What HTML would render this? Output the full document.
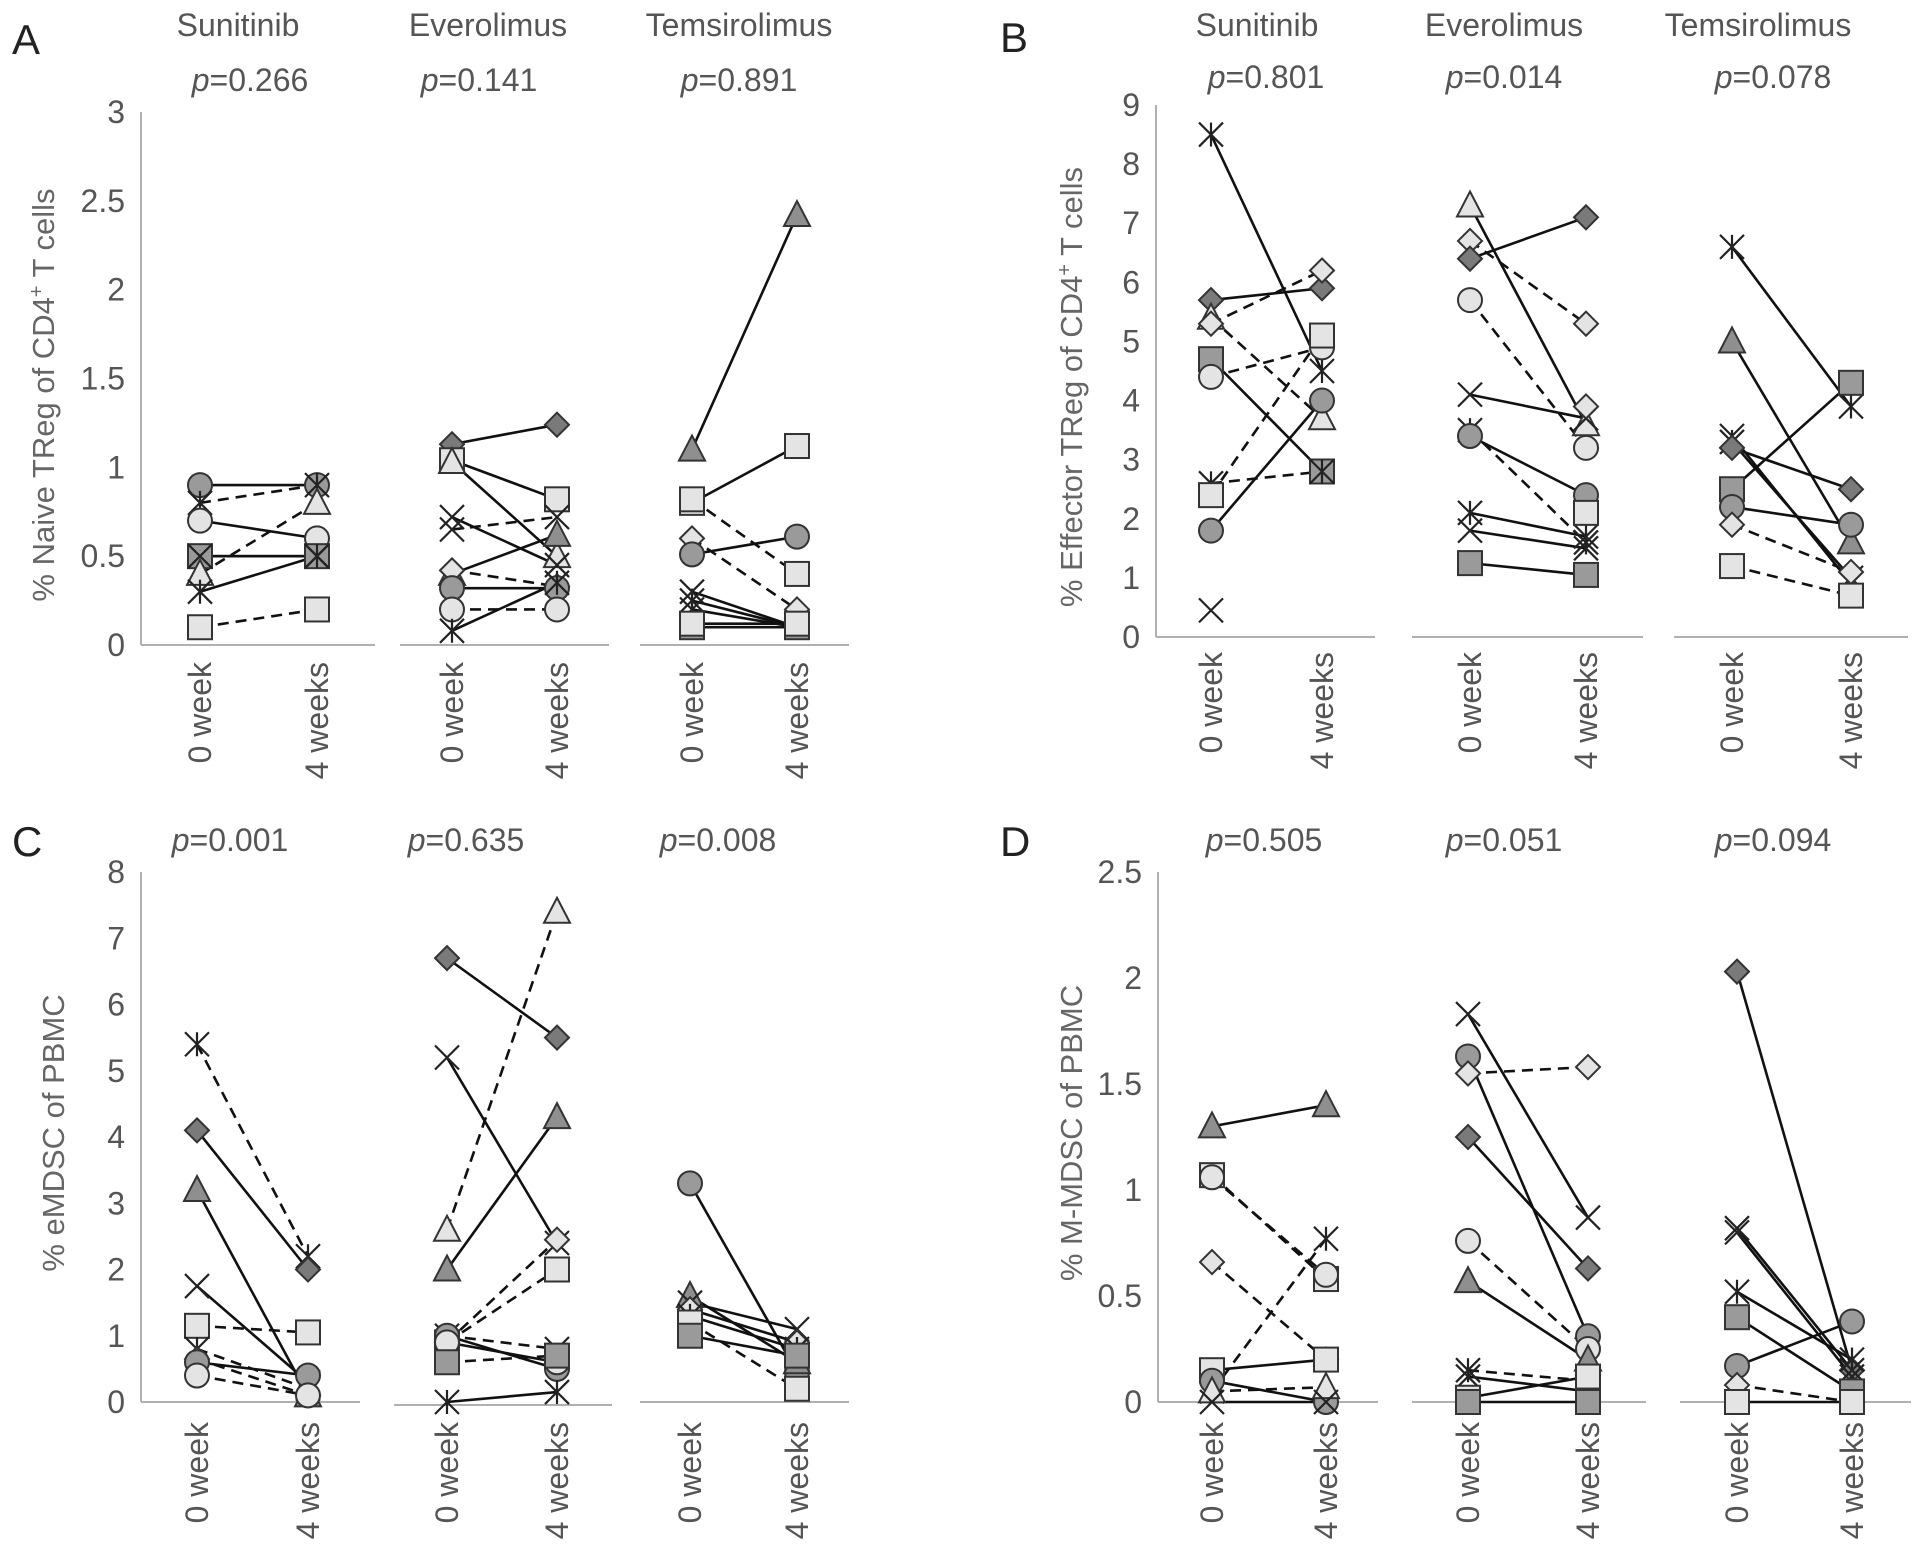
<!DOCTYPE html>
<html><head><meta charset="utf-8"><style>
html,body{margin:0;padding:0;background:#fff;}
svg{display:block;font-family:"Liberation Sans",Arial,sans-serif;}
</style></head><body>
<svg id="fig" width="1913" height="1558" viewBox="0 0 1913 1558" xmlns="http://www.w3.org/2000/svg"></svg>
<script>
// ---- data arrays (marker, week0, week4, dashed) ----
const drugs = ["Sunitinib","Everolimus","Temsirolimus"];
const timeLabels = ["0 week","4 weeks"];
const A_ticks = [0,0.5,1,1.5,2,2.5,3];
const A_p = ["0.266","0.141","0.891"];
const A_sun = [["cd",0.9,0.9,0],["a",0.8,0.9,1],["cl",0.7,0.6,0],["sd",0.5,0.5,0],["x",0.5,0.5,0],["tl",0.4,0.8,1],["a",0.3,0.5,0],["sl",0.1,0.2,1]];
const A_eve = [["dd",1.13,1.24,0],["sl",1.04,0.82,0],["tl",1.03,0.5,0],["x",0.72,0.45,0],["x",0.65,0.72,1],["td",0.4,0.62,0],["dl",0.42,0.33,1],["cd",0.32,0.32,0],["cl",0.2,0.2,1],["a",0.08,0.35,0]];
const A_tem = [["td",1.1,2.42,0],["sl",0.8,1.12,0],["sl",0.82,0.4,1],["dl",0.6,0.2,1],["cd",0.51,0.61,0],["x",0.3,0.1,0],["a",0.25,0.1,0],["a",0.2,0.1,0],["sd",0.1,0.1,0],["sl",0.12,0.12,0]];
const B_ticks = [0,1,2,3,4,5,6,7,8,9];
const B_p = ["0.801","0.014","0.078"];
const B_sun = [["a",8.5,4.5,0],["dd",5.7,5.9,0],["tl",5.4,3.7,1],["dl",5.3,6.2,1],["sd",4.7,2.8,0],["cl",4.4,4.9,1],["a",2.6,2.8,1],["sl",2.4,5.1,1],["cd",1.8,4.0,0],["x",0.45,null,0]];
const B_eve = [["tl",7.3,3.6,0],["dl",6.7,5.3,1],["dd",6.4,7.1,0],["cl",5.7,3.2,1],["x",4.1,3.7,0],["a",3.5,1.6,1],["cd",3.4,2.4,0],["a",2.1,1.7,0],["x",1.8,1.5,0],["sd",1.25,1.05,0],["sl",null,2.1,0],["dl",null,3.9,0]];
const B_tem = [["a",6.6,3.9,0],["td",5.0,1.6,0],["x",3.4,0.9,0],["a",3.3,1.0,0],["dd",3.2,2.5,0],["sd",2.5,4.3,0],["cd",2.2,1.9,0],["dl",1.9,1.1,1],["sl",1.2,0.7,1]];
const C_ticks = [0,1,2,3,4,5,6,7,8];
const C_p = ["0.001","0.635","0.008"];
const C_sun = [["a",5.4,2.2,1],["dd",4.1,2.0,0],["td",3.2,0.1,0],["x",1.75,0.3,0],["sl",1.15,1.05,1],["a",0.8,0.2,1],["dd",0.65,0.1,1],["cd",0.6,0.4,0],["cl",0.4,0.1,1]];
const C_eve = [["dd",6.7,5.5,0],["tl",2.6,7.4,1],["x",5.2,2.4,0],["dl",0.9,2.45,1],["td",2.0,4.3,0],["sl",0.9,2.0,1],["x",1.0,0.8,1],["cd",1.0,0.5,0],["cl",0.9,0.6,0],["a",0.0,0.15,0],["sd",0.6,0.7,1]];
const C_tem = [["cd",3.3,0.45,0],["td",1.6,0.6,0],["x",1.5,1.1,0],["dl",1.4,0.9,0],["a",1.3,0.8,0],["sl",1.2,0.2,1],["sd",1.0,0.7,0]];
const D_ticks = [0,0.5,1,1.5,2,2.5];
const D_p = ["0.505","0.051","0.094"];
const D_sun = [["td",1.3,1.4,0],["sl",1.07,0.58,1],["cl",1.06,0.6,1],["dl",0.66,0.2,1],["a",0.05,0.77,1],["sl",0.15,0.2,0],["cd",0.1,0.0,0],["tl",0.05,0.07,1],["x",0.0,0.0,0]];
const D_eve = [["x",1.83,0.87,0],["cd",1.63,0.31,0],["dl",1.55,1.58,1],["dd",1.25,0.63,0],["cl",0.76,0.25,1],["td",0.57,0.2,0],["a",0.15,0.1,1],["x",0.12,0.05,0],["sl",0.02,0.12,0],["sd",0.0,0.0,0]];
const D_tem = [["dd",2.03,0.15,0],["x",0.82,0.15,0],["x",0.8,0.12,0],["a",0.52,0.2,0],["sd",0.4,0.05,0],["cd",0.17,0.38,0],["dl",0.08,0.0,1],["sl",0.0,0.0,0]];

const NS="http://www.w3.org/2000/svg";
const svg=document.getElementById('fig');
function mk(tag,attrs,parent){const e=document.createElementNS(NS,tag);for(const k in attrs)e.setAttribute(k,attrs[k]);(parent||svg).appendChild(e);return e;}
const fillOf={cd:"#9a9a9a",cl:"#e4e4e4",sd:"#9a9a9a",sl:"#e4e4e4",dd:"#7a7a7a",dl:"#e4e4e4",td:"#8f8f8f",tl:"#e4e4e4"};

function marker(g,type,x,y){
  const r=12, st={stroke:"#333","stroke-width":2};
  let e;
  if(type[0]==="c"){e=mk("circle",Object.assign({cx:x,cy:y,r:r,fill:fillOf[type]},st),g);}
  else if(type[0]==="s"){e=mk("rect",Object.assign({x:x-r,y:y-r,width:2*r,height:2*r,fill:fillOf[type]},st),g);}
  else if(type[0]==="d"){e=mk("polygon",Object.assign({points:`${x},${y-r} ${x+r},${y} ${x},${y+r} ${x-r},${y}`,fill:fillOf[type]},st),g);}
  else if(type[0]==="t"){e=mk("polygon",Object.assign({points:`${x},${y-r-2} ${x+r+1},${y+r-1} ${x-r-1},${y+r-1}`,fill:fillOf[type]},st),g);}
  else {
    e=mk("g",{},g);
    mk("line",{x1:x-r,y1:y-r,x2:x+r,y2:y+r,stroke:"#222","stroke-width":2.2},e);
    mk("line",{x1:x-r,y1:y+r,x2:x+r,y2:y-r,stroke:"#222","stroke-width":2.2},e);
    if(type==="a")mk("line",{x1:x,y1:y-r,x2:x,y2:y+r,stroke:"#222","stroke-width":2.2},e);
  }
  
  
}

function panel(cfg){
  const g=mk("g",{});
  
  
  const yS=v=>cfg.y0-(v-cfg.ticks[0])*(cfg.y0-cfg.yTop)/(cfg.ticks[cfg.ticks.length-1]-cfg.ticks[0]);
  const L=mk("text",{x:cfg.lx,y:cfg.ly,"font-size":42,fill:"#222"},g);L.textContent=cfg.letter;
  
  const ax=mk("line",{x1:cfg.axX,y1:cfg.yTop,x2:cfg.axX,y2:cfg.y0,stroke:"#b0b0b0","stroke-width":2},g);
  
  cfg.ticks.forEach(t=>{const tt=mk("text",{x:cfg.axX-16,y:yS(t)+11,"font-size":32,fill:"#555","text-anchor":"end"},g);tt.textContent=String(t);
    });
  const yl=mk("text",{x:0,y:0,"font-size":31,fill:"#666","text-anchor":"middle",transform:`translate(${cfg.ylx},${cfg.yly}) rotate(-90)`},g);
  
  yl.innerHTML=cfg.ylab;
  cfg.groups.forEach((grp,gi)=>{
    const gg=mk("g",{},g);
    
    mk("line",{x1:grp.seg[0],y1:grp.base||cfg.y0,x2:grp.seg[1],y2:grp.base||cfg.y0,stroke:"#b0b0b0","stroke-width":2},gg);
    if(cfg.titles){const t=mk("text",{x:grp.tx,y:cfg.titleY,"font-size":32,fill:"#555","text-anchor":"middle"},gg);t.textContent=drugs[gi];
      }
    const p=mk("text",{x:grp.px,y:cfg.pY,"font-size":32,fill:"#555","text-anchor":"middle"},gg);
    p.innerHTML='<tspan font-style="italic">p</tspan>=' + cfg.p[gi];
    
    timeLabels.forEach((tl,ti)=>{const t=mk("text",{x:0,y:0,"font-size":32,fill:"#555","text-anchor":"end",transform:`translate(${grp.xs[ti]+11},${cfg.xlY}) rotate(-90)`},gg);t.textContent=tl;
      });
    grp.data.forEach(d=>{if(d[1]!==null&&d[2]!==null){const ln=mk("line",{x1:grp.xs[0],y1:yS(d[1]),x2:grp.xs[1],y2:yS(d[2]),stroke:"#111","stroke-width":2.6},gg);
      if(d[3])ln.setAttribute("stroke-dasharray","11,7");
      }});
    grp.data.forEach(d=>{if(d[1]!==null)marker(gg,d[0],grp.xs[0],yS(d[1]));if(d[2]!==null)marker(gg,d[0],grp.xs[1],yS(d[2]));});
  });
}
const sup='<tspan dy="-11" font-size="20">+</tspan><tspan dy="11">';
panel({letter:"A",lx:12,ly:54,axX:141,yTop:112,y0:645,ticks:A_ticks,p:A_p,titles:true,titleY:36,pY:91,xlY:662,ylx:54,yly:395,
  ylab:'% Naive TReg of CD4'+sup+' T cells</tspan>',
  groups:[{seg:[141,375],xs:[200,317],tx:238,px:250,data:A_sun},{seg:[400,609],xs:[452,557],tx:488,px:479,data:A_eve},{seg:[640,849],xs:[692,797],tx:739,px:739,data:A_tem}]});
panel({letter:"B",lx:1000,ly:52,axX:1156,yTop:105,y0:637,ticks:B_ticks,p:B_p,titles:true,titleY:36,pY:88,xlY:652,ylx:1082,yly:387,
  ylab:'% Effector TReg of CD4'+sup+' T cells</tspan>',
  groups:[{seg:[1156,1375],xs:[1211,1322],tx:1257,px:1266,data:B_sun},{seg:[1412,1643],xs:[1470,1586],tx:1504,px:1504,data:B_eve},{seg:[1674,1908],xs:[1732,1851],tx:1758,px:1773,data:B_tem}]});
panel({letter:"C",lx:12,ly:856,axX:141,yTop:872,y0:1402,ticks:C_ticks,p:C_p,titles:false,pY:851,xlY:1422,ylx:64,yly:1133,
  ylab:'% eMDSC of PBMC',
  groups:[{seg:[141,360],xs:[197,308],px:230,data:C_sun},{seg:[394,612],xs:[447,557],px:466,data:C_eve,base:1405},{seg:[640,849],xs:[690,797],px:718,data:C_tem}]});
panel({letter:"D",lx:1000,ly:856,axX:1158,yTop:872,y0:1402,ticks:D_ticks,p:D_p,titles:false,pY:851,xlY:1422,ylx:1082,yly:1133,
  ylab:'% M-MDSC of PBMC',
  groups:[{seg:[1158,1378],xs:[1212,1326],px:1264,data:D_sun},{seg:[1412,1646],xs:[1468,1588],px:1504,data:D_eve},{seg:[1680,1911],xs:[1737,1852],px:1773,data:D_tem}]});
</script>
</body></html>
